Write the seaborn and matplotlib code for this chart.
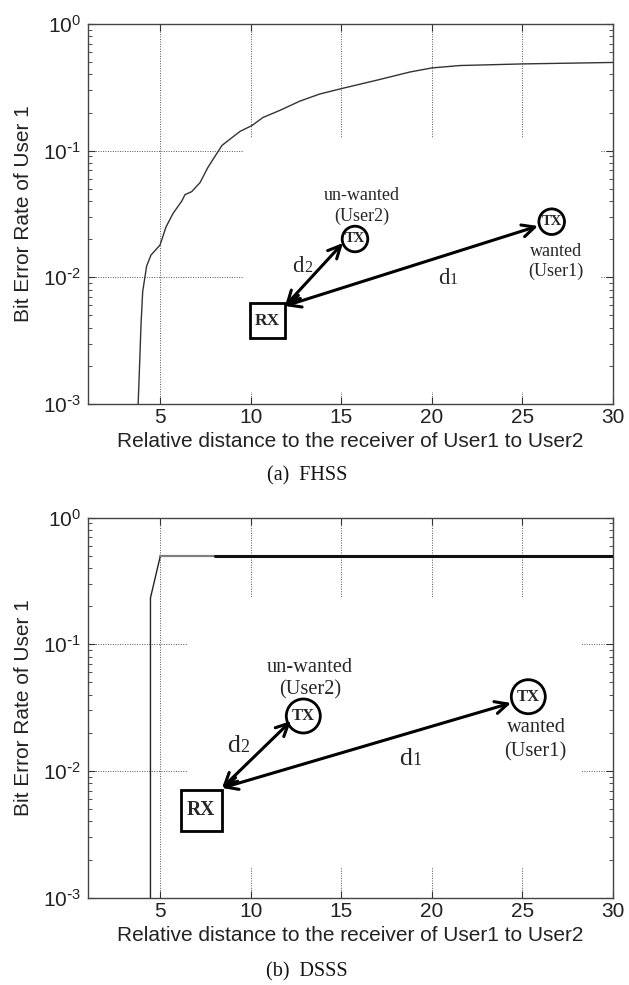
import numpy as np
import pandas as pd
import matplotlib
matplotlib.use("Agg")
import matplotlib.pyplot as plt
import seaborn as sns
from matplotlib.patches import Rectangle, Ellipse, FancyArrowPatch
from matplotlib.ticker import FixedLocator, LogLocator, NullFormatter, FuncFormatter

# ---------------- data ----------------
fhss_x = [3.77, 3.83, 3.93, 4.02, 4.24, 4.48, 4.98, 5.31, 5.70, 6.18, 6.36, 6.73,
          7.19, 7.63, 8.40, 8.96, 9.40, 10.06, 10.67, 11.6, 12.7, 13.8, 15.0,
          16.95, 18.79, 20.0, 21.55, 25.0, 30.0]
fhss_y = [0.001, 0.0017, 0.0043, 0.0077, 0.0123, 0.015, 0.018, 0.025, 0.032, 0.040,
          0.045, 0.0475, 0.056, 0.074, 0.11, 0.127, 0.142, 0.158, 0.183, 0.208,
          0.246, 0.28, 0.309, 0.36, 0.418, 0.45, 0.47, 0.484, 0.497]

dsss_x = [4.45, 4.45, 5.0]
dsss_y = [0.001, 0.232, 0.5]
dsss_flat_gray_x = [5.0, 8.0]
dsss_flat_gray_y = [0.5, 0.5]
dsss_flat_x = [8.0, 30.0]
dsss_flat_y = [0.5, 0.5]

x_ticks = [5, 10, 15, 20, 25, 30]
x_label = "Relative distance to the receiver of User1 to User2"
y_label = "Bit Error Rate of User 1"
captions = ["(a)  FHSS", "(b)  DSSS"]

# ---------------- style ----------------
sns.set_theme(style="ticks")
plt.rcParams["font.family"] = ["Liberation Sans", "DejaVu Sans"]
plt.rcParams["mathtext.default"] = "regular"
plt.rcParams["axes.edgecolor"] = "#444444"
plt.rcParams["axes.linewidth"] = 1.0

W, H = 629, 985
fig = plt.figure(figsize=(W / 100, H / 100), dpi=100)
fig.patch.set_facecolor("white")

def F(x, y):
    return (x / W, 1 - y / H)

ax1 = fig.add_axes([88 / W, 1 - 404 / H, 525 / W, 380 / H])
ax2 = fig.add_axes([88 / W, 1 - 897.7 / H, 525 / W, 380.2 / H])

df_f = pd.DataFrame({"x": fhss_x, "y": fhss_y})
sns.lineplot(data=df_f, x="x", y="y", ax=ax1, color="#333333", lw=1.0,
             estimator=None, sort=False, zorder=4)

df_d = pd.DataFrame({"x": dsss_x, "y": dsss_y})
sns.lineplot(data=df_d, x="x", y="y", ax=ax2, color="#222222", lw=1.0,
             estimator=None, sort=False, zorder=4)
df_g = pd.DataFrame({"x": dsss_flat_gray_x, "y": dsss_flat_gray_y})
sns.lineplot(data=df_g, x="x", y="y", ax=ax2, color="#808080", lw=1.6,
             estimator=None, sort=False, zorder=4)
df_k = pd.DataFrame({"x": dsss_flat_x, "y": dsss_flat_y})
sns.lineplot(data=df_k, x="x", y="y", ax=ax2, color="#111111", lw=2.2,
             estimator=None, sort=False, zorder=4)

def fmt(v, pos):
    e = int(round(np.log10(v)))
    if e < 0:
        return r"$10^{\text{-}%d}$" % (-e)
    return r"$10^{%d}$" % e

for ax in (ax1, ax2):
    ax.set_yscale("log")
    ax.set_xlim(1, 30)
    ax.set_ylim(1e-3, 1)
    ax.xaxis.set_major_locator(FixedLocator(x_ticks))
    ax.yaxis.set_major_locator(FixedLocator([1e-3, 1e-2, 1e-1, 1]))
    ax.yaxis.set_minor_locator(LogLocator(base=10, subs=np.arange(2, 10)))
    ax.yaxis.set_minor_formatter(NullFormatter())
    ax.yaxis.set_major_formatter(FuncFormatter(fmt))
    ax.tick_params(which="both", direction="in", top=True, right=True,
                   color="#333333", labelsize=15, labelcolor="#222222")
    ax.tick_params(which="major", length=5, width=0.8)
    ax.tick_params(which="minor", length=3, width=0.6)
    ax.tick_params(axis="x", pad=3)
    ax.tick_params(axis="y", pad=5)
    ax.grid(True, which="major", linestyle=(0, (1, 1.5)), color="#555555", lw=0.7)
    ax.set_axisbelow(True)
    ax.set_xlabel(x_label, fontsize=15, color="#222222", va="center")
    ax.set_ylabel(y_label, fontsize=15, color="#222222", va="center")
    ax.yaxis.set_label_coords(-64 / 525, 0.5)
    ax.xaxis.set_label_coords(0.5, -38 / 380)
    for s in ax.spines.values():
        s.set_visible(True)
        s.set_color("#444444")

# white panels carrying the inset diagrams (hide grid behind them)
ax1.add_patch(Rectangle(((243 - 88) / 525, 1 - (392 - 24) / 380),
                        (600 - 243) / 525, (392 - 138) / 380,
                        transform=ax1.transAxes, facecolor="white",
                        edgecolor="none", zorder=1))
ax2.add_patch(Rectangle(((188 - 88) / 525, 1 - (867 - 517.5) / 380.2),
                        (582 - 188) / 525, (867 - 597) / 380.2,
                        transform=ax2.transAxes, facecolor="white",
                        edgecolor="none", zorder=1))

fig.text(*F(307, 476), captions[0], ha="center", va="center", fontsize=14.5,
         family="Liberation Serif", color="#111111")
fig.text(*F(307, 972), captions[1], ha="center", va="center", fontsize=14.5,
         family="Liberation Serif", color="#111111")

# ---------------- inset diagrams ----------------
def diagram(rx_c, rx_s, tx2_c, tx1_c, r, arrow_a, arrow_b2, arrow_b1,
            uw_pos, u2_pos, w_pos, u1_pos, d2_pos, d1_pos, s):
    serif = "Liberation Serif"
    fig.add_artist(Rectangle(F(rx_c[0] - rx_s / 2, rx_c[1] + rx_s / 2),
                             rx_s / W, rx_s / H, transform=fig.transFigure,
                             facecolor="white", edgecolor="black", lw=2.0, zorder=5))
    fig.text(*F(*rx_c), "RX", ha="center", va="center", fontsize=12.5 * s,
             family=serif, weight="bold", zorder=6)
    for c in (tx2_c, tx1_c):
        fig.add_artist(Ellipse(F(*c), 2 * r / W, 2 * r / H, transform=fig.transFigure,
                               facecolor="white", edgecolor="black", lw=2.0, zorder=5))
        fig.text(*F(*c), "TX", ha="center", va="center", fontsize=10.5 * s,
                 family=serif, weight="bold", zorder=6)
    for b in (arrow_b2, arrow_b1):
        fig.add_artist(FancyArrowPatch(F(*arrow_a), F(*b), transform=fig.transFigure,
                                       arrowstyle="<->,head_length=0.45,head_width=0.22",
                                       mutation_scale=20, lw=2.2, color="black",
                                       shrinkA=0, shrinkB=0, zorder=5))
    fig.text(*F(*uw_pos), "un-wanted", ha="center", va="center", fontsize=13 * s,
             family=serif)
    fig.text(*F(*u2_pos), "(User2)", ha="center", va="center", fontsize=13 * s,
             family=serif)
    fig.text(*F(*w_pos), "wanted", ha="center", va="center", fontsize=13 * s,
             family=serif)
    fig.text(*F(*u1_pos), "(User1)", ha="center", va="center", fontsize=13 * s,
             family=serif)
    fig.text(*F(*d2_pos), "d", ha="right", va="baseline", fontsize=16.5 * s, family=serif)
    fig.text(*F(*d2_pos), "2", ha="left", va="baseline", fontsize=11.5 * s, family=serif)
    fig.text(*F(*d1_pos), "d", ha="right", va="baseline", fontsize=16.5 * s, family=serif)
    fig.text(*F(*d1_pos), "1", ha="left", va="baseline", fontsize=11.5 * s, family=serif)

diagram(rx_c=(267, 321), rx_s=35, tx2_c=(355, 239), tx1_c=(551.7, 221.7), r=12.8,
        arrow_a=(285, 306), arrow_b2=(343, 243), arrow_b1=(538, 226),
        uw_pos=(361.7, 196), u2_pos=(361.7, 216), w_pos=(556, 251), u1_pos=(556, 271),
        d2_pos=(304, 272), d1_pos=(450, 284), s=1.0)

diagram(rx_c=(201, 810), rx_s=41, tx2_c=(303.3, 716), tx1_c=(528.3, 696.7), r=17,
        arrow_a=(222, 788), arrow_b2=(291, 721), arrow_b1=(511, 703),
        uw_pos=(310, 667), u2_pos=(310, 690), w_pos=(536.7, 728), u1_pos=(535, 752),
        d2_pos=(240, 752), d1_pos=(412, 765), s=1.13)

fig.savefig("out.png", dpi=100, facecolor="white")
